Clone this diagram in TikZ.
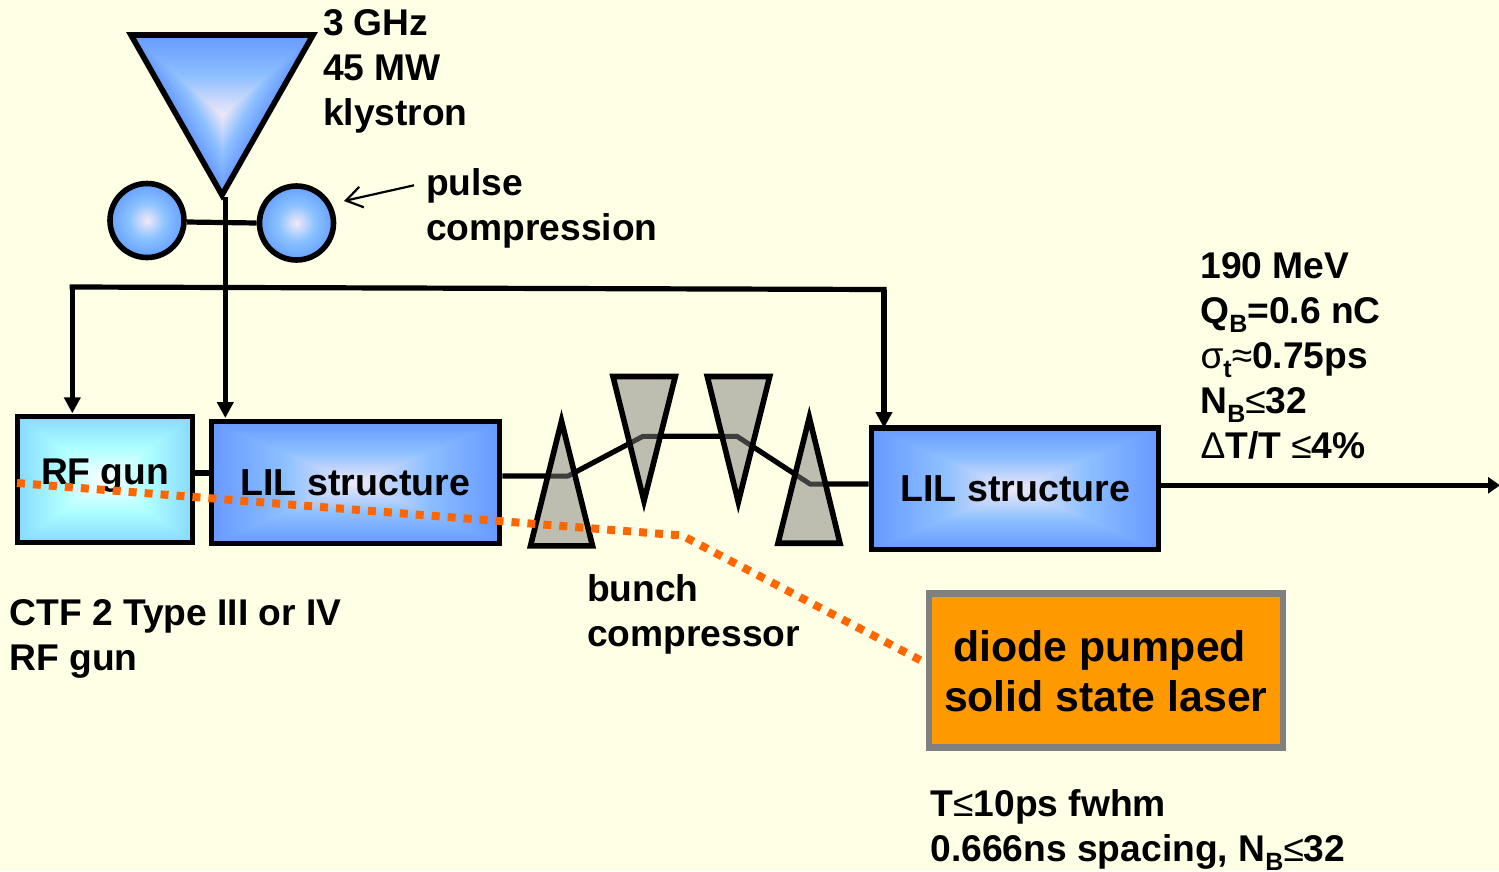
\documentclass[tikz,border=0pt]{standalone}
\usepackage{fontspec}
\setmainfont{Liberation Sans}
\usetikzlibrary{arrows.meta}
\definecolor{bgcream}{RGB}{255,255,229}
\definecolor{wedge}{RGB}{190,190,176}
\definecolor{wedgeline}{RGB}{62,62,62}
\definecolor{laserfill}{RGB}{255,153,0}
\definecolor{laserrim}{RGB}{128,128,128}
\definecolor{dotorange}{RGB}{255,102,0}
\definecolor{orbedge}{RGB}{102,160,255}
\definecolor{orbmid}{RGB}{140,195,255}
\definecolor{orbcore}{RGB}{242,232,248}
\newcommand{\lowsub}[1]{\raisebox{-0.24em}{\smash{\fontsize{25}{25}\selectfont #1}}}
\newcommand{\symb}[1]{{\mdseries #1}}
\pgfdeclarefunctionalshading{boxblue}{\pgfpointorigin}{\pgfpoint{100bp}{100bp}}{}{
 50 sub abs 25 div exch 50 sub abs 25 div 2 copy lt {exch} if pop
 dup 0.5 lt
 { 2 mul dup -0.39 mul 0.94 add exch dup -0.16 mul 0.91 add exch 0.03 mul 0.97 add }
 { 2 mul 1 sub dup -0.15 mul 0.55 add exch dup -0.15 mul 0.75 add exch pop 1 }
 ifelse }
\pgfdeclarefunctionalshading{boxcyan}{\pgfpointorigin}{\pgfpoint{100bp}{100bp}}{}{
 50 sub abs 25 div exch 50 sub abs 25 div 2 copy lt {exch} if pop
 dup 0.5 lt
 { 2 mul -0.32 mul 1 add 1 1 }
 { 2 mul 1 sub dup -0.15 mul 0.68 add exch -0.15 mul 1 add 1 }
 ifelse }
\pgfdeclarefunctionalshading{triblue}{\pgfpointorigin}{\pgfpoint{100bp}{100bp}}{}{
 50 sub 25 div exch 50 sub abs 25 div 2 mul 1 index sub 2 copy lt {exch} if pop
 dup 0.5 lt
 { 2 mul dup -0.39 mul 0.94 add exch dup -0.16 mul 0.91 add exch 0.03 mul 0.97 add }
 { 2 mul 1 sub dup -0.15 mul 0.55 add exch dup -0.15 mul 0.75 add exch pop 1 }
 ifelse }
\pgfdeclareradialshading{orbblue}{\pgfpointorigin}{color(0bp)=(orbcore); color(12bp)=(orbmid); color(25bp)=(orbedge); color(50bp)=(orbedge)}
\tikzset{
  lbl/.style={inner sep=0pt, outer sep=0pt, anchor=base west, align=left, font=\fontsize{37.2}{44.8}\selectfont\bfseries},
  boxnode/.style={draw=black, line width=5.6pt, inner sep=0pt, rectangle, shade},
  orb/.style={circle, draw=black, line width=5.6pt, inner sep=0pt, minimum size=74pt, shade, shading=orbblue},
  wire/.style={draw=black, line width=5.2pt},
  feed/.style={wire, -{Triangle[length=16pt,width=16pt]}},
  wedgeshape/.style={fill=wedge},
  wedgerim/.style={draw=black, line width=5.6pt, miter limit=20},
  laserdots/.style={draw=dotorange, line width=8pt, dash pattern=on 8pt off 8pt}
}
\begin{document}
\begin{tikzpicture}[x=1pt,y=-1pt]
\useasboundingbox (0,0) rectangle (1499,871);
\fill[bgcream] (0,0) rectangle (1499,871);

% wedge corners
\coordinate (w1a) at (530.5,545.8); \coordinate (w1b) at (592.5,545.8); \coordinate (w1c) at (561.5,421);
\coordinate (w2a) at (613,376.5); \coordinate (w2b) at (675.3,376.5); \coordinate (w2c) at (644,501);
\coordinate (w3a) at (707.3,376.5); \coordinate (w3b) at (769.7,376.5); \coordinate (w3c) at (738.3,502);
\coordinate (w4a) at (778,543.2); \coordinate (w4b) at (840,543.2); \coordinate (w4c) at (809.3,417.5);

% boxes
\node[boxnode, shading=boxcyan, minimum width=175pt, minimum height=126pt] (gun) at (105,479.5) {};
\node[boxnode, shading=boxblue, minimum width=288pt, minimum height=122pt] (lila) at (355.5,482.5) {};
\node[boxnode, shading=boxblue, minimum width=287pt, minimum height=121.5pt] (lilb) at (1015,488.75) {};
\node[draw=laserrim, fill=laserfill, line width=6.5pt, inner sep=0pt, minimum width=354pt, minimum height=154pt] (laser) at (1106,670.5) {};

% klystron and pulse compressor
\shadedraw[shading=triblue, draw=black, line width=5.6pt] (131,35) coordinate (ka) -- (313,35) coordinate (kb) -- (222,195) coordinate (kc) -- cycle;
\node[orb] (orbl) at (147,220.5) {};
\node[orb] (orbr) at (296.5,223) {};

% bends of the beam line and junctions
\coordinate (b1) at (568,476); \coordinate (b2) at (643,436.3);
\coordinate (b3) at (737,436.3); \coordinate (b4) at (810,484);
\coordinate (ktail) at (225.3,197);
\coordinate (gunin) at (72.3,413.3);
\coordinate (lilain) at (225.3,418);
\coordinate (lilbin) at (884,428);
\coordinate (busl) at (72.3,287);
\coordinate (busr) at (884,289.5);
\coordinate (beamout) at (1500,485.3);
\coordinate (ptail) at (414,185.3);
\coordinate (phead) at (344,201);

% wires
\draw[wire] (orbl.east) ++(0,1.5) -- (orbr.west);
\draw[feed] (ktail) -- (lilain);
\draw[feed] (busr) -- (lilbin);
\draw[feed] (busl) -- (gunin);
\draw[wire, line cap=rect] (busl) -- (busr);
\draw[wire] (gun.east |- 0,473) -- (lila.west |- 0,473);
\draw[wire, -{Triangle[length=12pt,width=16pt]}] (lilb.east |- beamout) -- (beamout);
\draw[black, line width=2.2pt, -{Straight Barb[length=16pt,width=21pt]}] (ptail) -- (phead);

% beam line through the wedges
\draw[wire, line join=round] (lila.east |- b1) -- (b1) -- (b2) -- (b3) -- (b4) -- (lilb.west |- b4);
\fill[wedgeshape] (w1a) -- (w1b) -- (w1c) -- cycle;
\fill[wedgeshape] (w2a) -- (w2b) -- (w2c) -- cycle;
\fill[wedgeshape] (w3a) -- (w3b) -- (w3c) -- cycle;
\fill[wedgeshape] (w4a) -- (w4b) -- (w4c) -- cycle;
\begin{scope}
\clip (w1a) -- (w1b) -- (w1c) -- cycle;
\draw[draw=wedgeline, line width=5pt, line join=round] (lila.east |- b1) -- (b1) -- (b2);
\end{scope}
\begin{scope}
\clip (w2a) -- (w2b) -- (w2c) -- cycle;
\draw[draw=wedgeline, line width=5pt, line join=round] (b1) -- (b2) -- (b3);
\end{scope}
\begin{scope}
\clip (w3a) -- (w3b) -- (w3c) -- cycle;
\draw[draw=wedgeline, line width=5pt, line join=round] (b2) -- (b3) -- (b4);
\end{scope}
\begin{scope}
\clip (w4a) -- (w4b) -- (w4c) -- cycle;
\draw[draw=wedgeline, line width=5pt, line join=round] (b3) -- (b4) -- (lilb.west |- b4);
\end{scope}
\draw[wedgerim] (w1a) -- (w1b) -- (w1c) -- cycle;
\draw[wedgerim] (w2a) -- (w2b) -- (w2c) -- cycle;
\draw[wedgerim] (w3a) -- (w3b) -- (w3c) -- cycle;
\draw[wedgerim] (w4a) -- (w4b) -- (w4c) -- cycle;

% labels
\node[lbl] (tgun) at (41,484) {RF gun};
\node[lbl, font=\fontsize{37.6}{44.8}\selectfont\bfseries] (tlila) at (240.5,495) {LIL structure};
\node[lbl, font=\fontsize{37.6}{44.8}\selectfont\bfseries] (tlilb) at (900.5,501) {LIL structure};
\node[lbl] (tklys) at (323,125.3) {3 GHz\\45 MW\\klystron};
\node[lbl] (tpulse) at (426,240.4) {pulse\\compression};
\node[lbl] (tbeam) at (1200.5,458) {190 MeV\\Q\lowsub{B}=0.6 nC\\\symb{σ}\lowsub{t}\symb{≈}0.75ps\\N\lowsub{B}\symb{≤}32\\\symb{Δ}T/T \symb{≤}4\%};
\node[lbl] (tbunch) at (587,646.7) {bunch\\compressor};
\node[lbl] (tctf) at (9.5,670) {CTF 2 Type III or IV\\RF gun};
\node[lbl] (ttime) at (930.5,861.5) {T\symb{≤}10ps fwhm\\0.666ns spacing, N\lowsub{B}\symb{≤}32};
\node[lbl, font=\fontsize{42.8}{50}\selectfont\bfseries] (tlaser) at (953.5,661) {diode pumped};
\node[lbl, font=\fontsize{42.8}{50}\selectfont\bfseries] (tlaserb) at (944,711.5) {solid state laser};

% laser path
\coordinate (lstart) at (17,483);
\coordinate (lbend) at (682,535.5);
\coordinate (lend) at (922,661);
\draw[laserdots, line join=round] (lstart) -- (lbend) -- (lend);
\end{tikzpicture}
\end{document}
